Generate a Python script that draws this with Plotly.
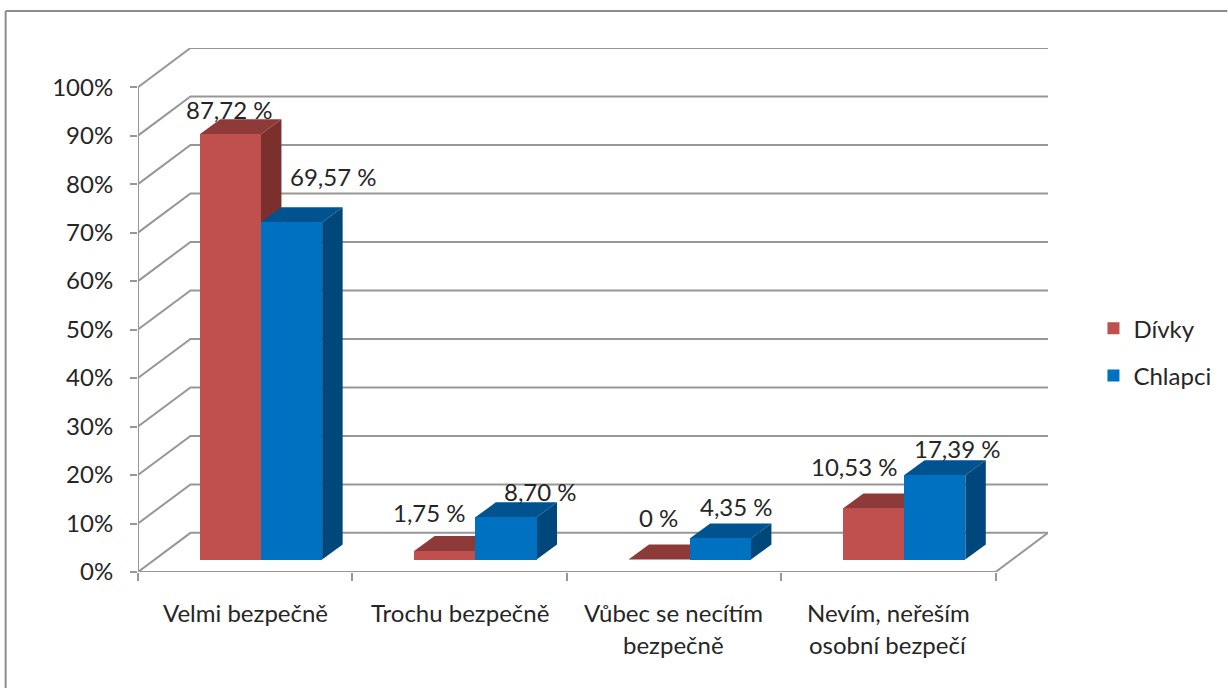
import plotly.graph_objects as go

categories = [["Velmi bezpečně"], ["Trochu bezpečně"], ["Vůbec se necítím", "bezpečně"], ["Nevím, neřeším", "osobní bezpečí"]]
divky = [87.72, 1.75, 0, 10.53]
chlapci = [69.57, 8.70, 4.35, 17.39]
y_ticks = [0, 10, 20, 30, 40, 50, 60, 70, 80, 90, 100]

# label offsets from the top of each bar's front face, pixels
divky_shift = [(-1, 25), (-15, 39), (-1, 42), (-19, 42)]
chlapci_shift = [(42, 46), (35, 26), (16, 32), (23, 27)]

GREY = "#979797"
TEXT = "#262626"
FONT = "Lato"
FS = 24

# chart geometry: fake 3d offsets in data units
WALL_X, WALL_Y = 0.2448, 8.07
DEPTH_X, DEPTH_Y = 0.0956, 3.1
BAR_LEFT, BAR_W, BASE = 0.288, 0.2855, 2.57

L, T, R, B = 137.5, 48, 1048.5, 571.7


def fmt(v):
    s = f"{v:.2f}".replace(".", ",") if v else "0"
    return s + " %"


def poly(xs, ys, color):
    return go.Scatter(x=xs, y=ys, mode="lines", fill="toself", fillcolor=color,
                      line=dict(width=0), hoverinfo="skip", showlegend=False)


fig = go.Figure()

# walls
for v in y_ticks:
    fig.add_trace(go.Scatter(x=[0, WALL_X, 4 + WALL_X], y=[v, v + WALL_Y, v + WALL_Y], mode="lines",
                             line=dict(color=GREY, width=2), hoverinfo="skip", showlegend=False))
fig.add_trace(go.Scatter(x=[0, 0], y=[0, 100], mode="lines", line=dict(color=GREY, width=2),
                         hoverinfo="skip", showlegend=False))
fig.add_trace(go.Scatter(x=[0, 4, 4 + WALL_X], y=[0, 0, WALL_Y], mode="lines", line=dict(color=GREY, width=2),
                         hoverinfo="skip", showlegend=False))

# top and side faces
series = [(divky, 0, "#C0504D", "#8E3A38", "#7B302E", "Dívky"),
          (chlapci, 1, "#0070C0", "#00538F", "#00477C", "Chlapci")]
for vals, k, front, top, side, name in series:
    for i, v in enumerate(vals):
        x0 = i + BAR_LEFT + k * BAR_W
        x1 = x0 + BAR_W
        y0 = BASE
        y1 = BASE + v
        fig.add_trace(poly([x1, x1 + DEPTH_X, x1 + DEPTH_X, x1, x1],
                           [y0, y0 + DEPTH_Y, y1 + DEPTH_Y, y1, y0], side))
        fig.add_trace(poly([x0, x0 + DEPTH_X, x1 + DEPTH_X, x1, x0],
                           [y1, y1 + DEPTH_Y, y1 + DEPTH_Y, y1, y1], top))

# front faces sit on an overlay so they cover the neighbour's side face
for vals, k, front, top, side, name in series:
    fig.add_trace(go.Bar(x=[i + BAR_LEFT + (k + 0.5) * BAR_W for i in range(4)], y=vals, base=BASE,
                         width=BAR_W, marker=dict(color=front, line=dict(width=0)), name=name,
                         legendgroup=name, xaxis="x2", yaxis="y2"))

annotations = []
for vals, k, shifts in [(divky, 0, divky_shift), (chlapci, 1, chlapci_shift)]:
    for i, v in enumerate(vals):
        annotations.append(dict(x=i + BAR_LEFT + (k + 0.5) * BAR_W, y=BASE + v, text=fmt(v), showarrow=False,
                                xshift=shifts[i][0], yshift=shifts[i][1], font=dict(family=FONT, size=FS, color=TEXT)))
for i, lines in enumerate(categories):
    for j, line in enumerate(lines):
        annotations.append(dict(x=i + 0.5, y=0, text=line, showarrow=False, yshift=-40 - 32 * j,
                                font=dict(family=FONT, size=FS, color=TEXT)))

W = R - L
H = B - T
fig.update_layout(
    width=1228, height=688,
    margin=dict(l=L, r=1228 - R, t=T, b=688 - B, pad=0),
    paper_bgcolor="white", plot_bgcolor="white",
    barmode="overlay", bargap=0,
    font=dict(family=FONT, size=FS, color=TEXT),
    annotations=annotations,
    legend=dict(x=(1094 - L) / W, y=(B - 306) / H, xanchor="left", yanchor="top",
                tracegroupgap=13, font=dict(family=FONT, size=FS, color=TEXT), bgcolor="rgba(0,0,0,0)"),
    shapes=[
        dict(type="line", xref="paper", yref="paper", x0=(5 - L) / W, x1=(5 - L) / W,
             y0=(B - 11) / H, y1=(B - 688) / H, line=dict(color="#8C8C8C", width=2)),
        dict(type="line", xref="paper", yref="paper", x0=(5 - L) / W, x1=(1228 - L) / W,
             y0=(B - 11) / H, y1=(B - 11) / H, line=dict(color="#8C8C8C", width=2)),
    ],
    xaxis=dict(range=[0, 4 + WALL_X], tickvals=[0, 1, 2, 3, 4], ticktext=[""] * 5, ticks="outside", ticklen=8,
               tickcolor=GREY, tickwidth=2, showgrid=False, zeroline=False, showline=False),
    yaxis=dict(range=[0, 100 + WALL_Y], tickvals=y_ticks, ticktext=[f"{v}%" for v in y_ticks], ticks="outside",
               ticklen=7, tickcolor=GREY, tickwidth=2, showgrid=False, zeroline=False, showline=False,
               ticklabelstandoff=12),
    xaxis2=dict(range=[0, 4 + WALL_X], overlaying="x", visible=False),
    yaxis2=dict(range=[0, 100 + WALL_Y], overlaying="y", visible=False),
)

fig.write_html("out.html", config={"displayModeBar": False}, post_script="document.body.style.margin = '0';")
